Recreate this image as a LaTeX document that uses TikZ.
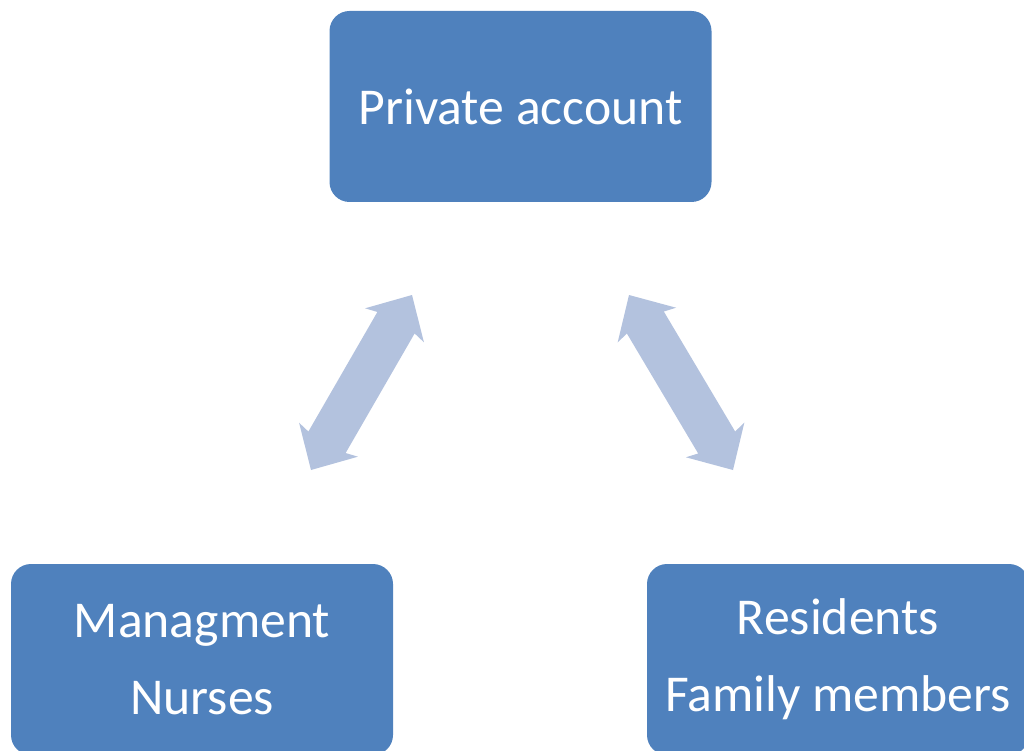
\documentclass[tikz,border=0pt]{standalone}
\usepackage{fontspec}
\setmainfont{Carlito}
\usetikzlibrary{calc}
\definecolor{boxblue}{HTML}{4F81BD}
\definecolor{arrowblue}{HTML}{B3C2DE}
\newcommand\fatarrow[2]{%
  \fill[arrowblue] (#2) -- ($(#2)!35pt!(#1)!34pt!90:(#1)$) -- ($(#2)!32pt!(#1)!21.5pt!90:(#1)$)
    -- ($(#1)!32pt!(#2)!21.5pt!-90:(#2)$) -- ($(#1)!35pt!(#2)!34pt!-90:(#2)$) -- (#1)
    -- ($(#1)!35pt!(#2)!34pt!90:(#2)$) -- ($(#1)!32pt!(#2)!21.5pt!90:(#2)$)
    -- ($(#2)!32pt!(#1)!21.5pt!-90:(#1)$) -- ($(#2)!35pt!(#1)!34pt!-90:(#1)$) -- cycle;}
\begin{document}
\begin{tikzpicture}[x=1pt,y=-1pt,
  box/.style={fill=boxblue, rounded corners=20pt, text=white, align=center,
    font=\fontsize{51.7}{77}\selectfont, inner sep=0pt,
    minimum width=382pt, minimum height=191pt}]
\useasboundingbox (0,0) rectangle (1024,751);
\clip (0,0) rectangle (1024,751);
\node[box] (top) at (520.5,106.5) {Private account};
\node[box] (left) at (202,659.5) {Managment\\Nurses};
\node[box] (right) at (838,659.5) {Residents\\Family members};
\coordinate (a1) at (311,470);
\coordinate (b1) at (412,295);
\coordinate (a2) at (733,470);
\coordinate (b2) at (629,295);
\fatarrow{a1}{b1}
\fatarrow{a2}{b2}
\end{tikzpicture}
\end{document}
